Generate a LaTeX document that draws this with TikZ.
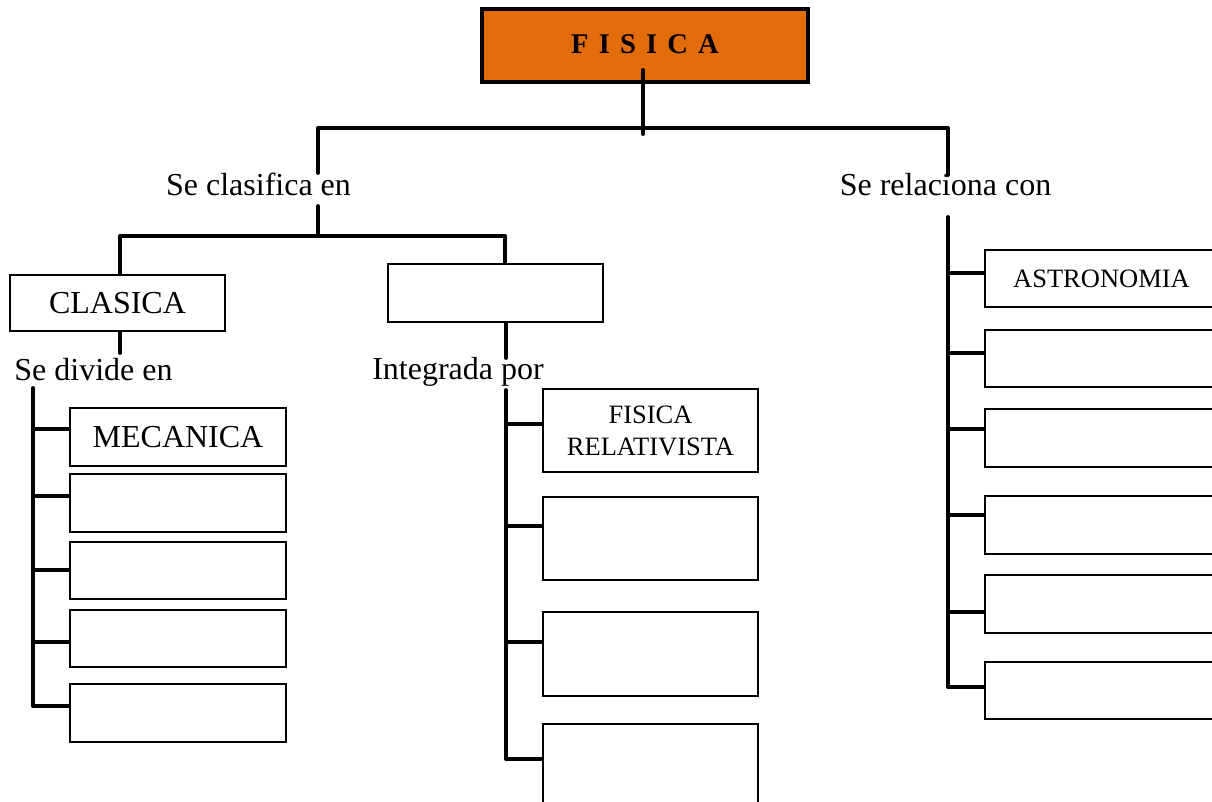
\documentclass[tikz,border=0pt]{standalone}
\usepackage{fontspec}
\setmainfont{Liberation Serif}
\definecolor{fisorange}{HTML}{E36C0A}
\begin{document}
\begin{tikzpicture}[x=1pt,y=-1pt,
  conn/.style={line width=3.9pt, line cap=round, line join=round},
  box/.style={draw, line width=1.8pt, inner sep=0pt, align=center, minimum width=215pt},
  big/.style={font=\fontsize{32}{38}\selectfont},
  small/.style={font=\fontsize{26.5}{32}\selectfont},
  lbl/.style={inner sep=0pt, anchor=base, font=\fontsize{32}{38}\selectfont}]
\useasboundingbox (0,0) rectangle (1212,802);
% title
\node[draw, line width=3.5pt, fill=fisorange, minimum width=326pt, minimum height=73pt, inner sep=0pt,
  font=\fontsize{28.5}{32}\selectfont\bfseries] (fis) at (645,45.5)
  {\raisebox{3pt}{F\hspace{10.2pt}I\hspace{10.2pt}S\hspace{10.2pt}I\hspace{10.2pt}C\hspace{10.2pt}A}};
% labels
\node[lbl] (secl) at (258.5,196) {Se clasifica en};
\node[lbl] (serel) at (945.5,196) {Se relaciona con};
\node[lbl] (sediv) at (93.5,380) {Se divide en};
\node[lbl] (integ) at (458,379) {Integrada por};
% level 2 boxes
\node[box, big, minimum width=215pt, minimum height=56pt] (clas) at (117.5,303) {CLASICA};
\node[box, minimum width=215pt, minimum height=58pt] (mid) at (495.5,293) {};
% left children
\node[box, big, minimum width=216pt, minimum height=58pt] (l1) at (178,437) {MECANICA};
\node[box, minimum width=216pt, minimum height=58pt] (l2) at (178,503) {};
\node[box, minimum width=216pt, minimum height=57pt] (l3) at (178,570.5) {};
\node[box, minimum width=216pt, minimum height=57pt] (l4) at (178,638.5) {};
\node[box, minimum width=216pt, minimum height=58pt] (l5) at (178,713) {};
% middle children
\node[box, small, minimum width=215pt, minimum height=83pt] (m1) at (650.5,430.5) {FISICA\\RELATIVISTA};
\node[box, minimum width=215pt, minimum height=83pt] (m2) at (650.5,538.5) {};
\node[box, minimum width=215pt, minimum height=84pt] (m3) at (650.5,654) {};
\node[box, minimum width=215pt, minimum height=84pt] (m4) at (650.5,766) {};
% right children
\node[box, small, minimum width=233pt, minimum height=57pt] (r1) at (1101.5,278.5) {ASTRONOMIA};
\node[box, minimum width=233pt, minimum height=57pt] (r2) at (1101.5,358.5) {};
\node[box, minimum width=233pt, minimum height=58pt] (r3) at (1101.5,438) {};
\node[box, minimum width=233pt, minimum height=58pt] (r4) at (1101.5,525) {};
\node[box, minimum width=233pt, minimum height=58pt] (r5) at (1101.5,604) {};
\node[box, minimum width=233pt, minimum height=57pt] (r6) at (1101.5,690.5) {};
% junction coordinates
\coordinate (ft) at (643,70);
\coordinate (fb) at (643,134);
\coordinate (hl) at (318,128);
\coordinate (hr) at (948,128);
\coordinate (cla) at (318,173);
\coordinate (clb) at (318,206);
\coordinate (h2l) at (120,236);
\coordinate (h2m) at (318,236);
\coordinate (h2r) at (505,236);
\coordinate (rla) at (948,175);
\coordinate (rlb) at (948,217);
\coordinate (clasb) at (120,353);
\coordinate (midb) at (506,358);
\coordinate (lt) at (33,388);
\coordinate (lb1) at (33,429);
\coordinate (lb2) at (33,496);
\coordinate (lb3) at (33,570);
\coordinate (lb4) at (33,642);
\coordinate (lb5) at (33,706);
\coordinate (mt) at (506,390);
\coordinate (mb1) at (506,424);
\coordinate (mb2) at (506,526);
\coordinate (mb3) at (506,642);
\coordinate (mb4) at (506,759);
\coordinate (rb1) at (948,273);
\coordinate (rb2) at (948,353);
\coordinate (rb3) at (948,429);
\coordinate (rb4) at (948,515);
\coordinate (rb5) at (948,612);
\coordinate (rb6) at (948,687);
% connectors
\draw[conn] (ft) -- (fb);
\draw[conn] (cla) -- (hl) -- (hr) -- (rla);
\draw[conn] (clb) -- (h2m);
\draw[conn] (clas.north -| h2l) -- (h2l) -- (h2r) -- (h2r |- mid.north);
\draw[conn] (clas.south -| clasb) -- (clasb);
\draw[conn] (mid.south -| midb) -- (midb);
% left tree
\draw[conn] (lt) -- (lb5) -- (lb5 -| l5.west);
\draw[conn] (lb1) -- (lb1 -| l1.west);
\draw[conn] (lb2) -- (lb2 -| l2.west);
\draw[conn] (lb3) -- (lb3 -| l3.west);
\draw[conn] (lb4) -- (lb4 -| l4.west);
% middle tree
\draw[conn] (mt) -- (mb4) -- (mb4 -| m4.west);
\draw[conn] (mb1) -- (mb1 -| m1.west);
\draw[conn] (mb2) -- (mb2 -| m2.west);
\draw[conn] (mb3) -- (mb3 -| m3.west);
% right tree
\draw[conn] (rlb) -- (rb6) -- (rb6 -| r6.west);
\draw[conn] (rb1) -- (rb1 -| r1.west);
\draw[conn] (rb2) -- (rb2 -| r2.west);
\draw[conn] (rb3) -- (rb3 -| r3.west);
\draw[conn] (rb4) -- (rb4 -| r4.west);
\draw[conn] (rb5) -- (rb5 -| r5.west);
\end{tikzpicture}
\end{document}
